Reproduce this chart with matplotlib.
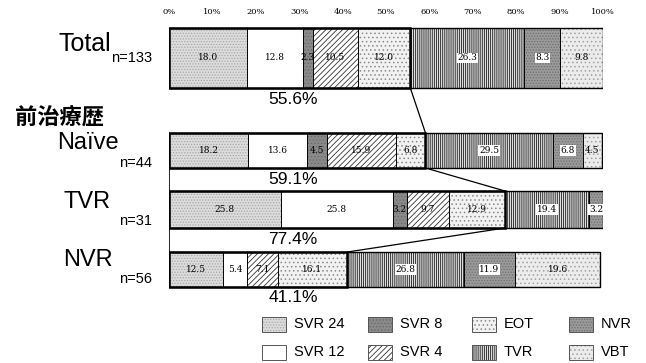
import numpy as np
import matplotlib.pyplot as plt
from matplotlib.patches import Rectangle

plt.rcParams['font.family'] = ['Liberation Sans', 'Noto Sans CJK JP', 'DejaVu Sans']
plt.rcParams['hatch.linewidth'] = 0.6

# response categories, left to right in each bar
categories = ['SVR 24', 'SVR 12', 'SVR 8', 'SVR 4', 'EOT', 'TVR', 'NVR', 'VBT']

# percentages per group
total = [18.0, 12.8, 2.3, 10.5, 12.0, 26.3, 8.3, 9.8]
naive = [18.2, 13.6, 4.5, 15.9, 6.8, 29.5, 6.8, 4.5]
tvr = [25.8, 25.8, 3.2, 9.7, 12.9, 19.4, 3.2, 0.0]
nvr = [12.5, 5.4, 0.0, 7.1, 16.1, 26.8, 11.9, 19.6]

group_names = ['Total', 'Naïve', 'TVR', 'NVR']
group_n = ['n=133', 'n=44', 'n=31', 'n=56']
# share of the first five categories (SVR24..EOT)
responders = [55.6, 59.1, 77.4, 41.1]
tick_labels = ['0%', '10%', '20%', '30%', '40%', '50%', '60%', '70%', '80%', '90%', '100%']

groups = [total, naive, tvr, nvr]

# fill, hatch, hatch colour per category
styles = [
    ('#dcdcdc', '......', '#a8a8a8'),
    ('white', '', 'black'),
    ('#8a8a8a', '.....', '#6a6a6a'),
    ('white', '//////', '#333333'),
    ('#f2f2f2', '....', '#8a8a8a'),
    ('#e0e0e0', '||||||||', '#1a1a1a'),
    ('#9a9a9a', '......', '#6e6e6e'),
    ('#ececec', '....', '#a0a0a0'),
]
boxed = {'TVR', 'NVR'}

# bar rows in pixel rows (top, bottom)
rows = [(28, 88), (133, 168), (191, 228), (252, 287)]

fig = plt.figure(figsize=(6.46, 3.63), dpi=100)
ax = fig.add_axes([169 / 646, 0, 434 / 646, 1])
ax.set_xlim(0, 100)
ax.set_ylim(363, 0)
ax.axis('off')

for vals, (top, bot), pct in zip(groups, rows, responders):
    yc = (top + bot) / 2
    h = bot - top
    left = 0.0
    for cat, v, (fc, hatch, hc) in zip(categories, vals, styles):
        if v <= 0:
            continue
        ax.barh(yc, v, left=left, height=h, color=fc, hatch=hatch,
                edgecolor=hc, linewidth=0)
        ax.barh(yc, v, left=left, height=h, fill=False,
                edgecolor='black', linewidth=0.7)
        box = dict(facecolor='white', edgecolor='none', pad=0.6) if cat in boxed else None
        ax.text(left + v / 2, yc, f'{v:.1f}', ha='center', va='center',
                fontsize=6.5, family='DejaVu Serif', bbox=box)
        left += v
    ax.barh(yc, sum(vals), height=h, fill=False, edgecolor='black', linewidth=1.0)
    ax.barh(yc, pct, height=h, fill=False, edgecolor='black', linewidth=1.8)
    ax.text(28.6, bot + 11, f'{pct}%', ha='center', va='center', fontsize=12.5)

# links between the responder boxes of consecutive bars
for i in range(len(rows) - 1):
    ax.plot([responders[i], responders[i + 1]], [rows[i][1], rows[i + 1][0]],
            color='black', linewidth=0.9)
ax.plot([0, 0], [rows[1][0], rows[3][1]], color='black', linewidth=1.2)

for t, lab in zip(np.linspace(0, 100, 11), tick_labels):
    ax.text(t, 12, lab, ha='center', va='center', fontsize=6, family='DejaVu Serif')

# labels and legend in pixel coordinates
lax = fig.add_axes([0, 0, 1, 1], zorder=-1)
lax.set_xlim(0, 646)
lax.set_ylim(363, 0)
lax.axis('off')

lax.text(15, 118, '前治療歴', ha='left', va='center', fontsize=16,
         family=['Noto Sans CJK JP'], weight='bold')
name_y = [44, 143, 202, 260]
name_r = [111, 119, 111, 113]
n_y = [58, 163, 221, 279]
for name, n, ny, nr, sy in zip(group_names, group_n, name_y, name_r, n_y):
    lax.text(nr, ny, name, ha='right', va='center', fontsize=18 if name == 'Total' else 17)
    lax.text(152, sy, n, ha='right', va='center', fontsize=10.5)

leg_x = [262, 368, 472, 569]
leg_y = [324, 352]
for k, (cat, (fc, hatch, hc)) in enumerate(zip(categories, styles)):
    col, row = divmod(k, 2)
    x0, y0 = leg_x[col], leg_y[row]
    lax.add_patch(Rectangle((x0, y0 - 7.5), 24, 15, facecolor=fc, hatch=hatch,
                            edgecolor=hc, linewidth=0))
    lax.add_patch(Rectangle((x0, y0 - 7.5), 24, 15, fill=False,
                            edgecolor='#555555', linewidth=0.7))
    lax.text(x0 + 32, y0, cat, ha='left', va='center', fontsize=10.5)

fig.savefig('out.png', dpi=100)
